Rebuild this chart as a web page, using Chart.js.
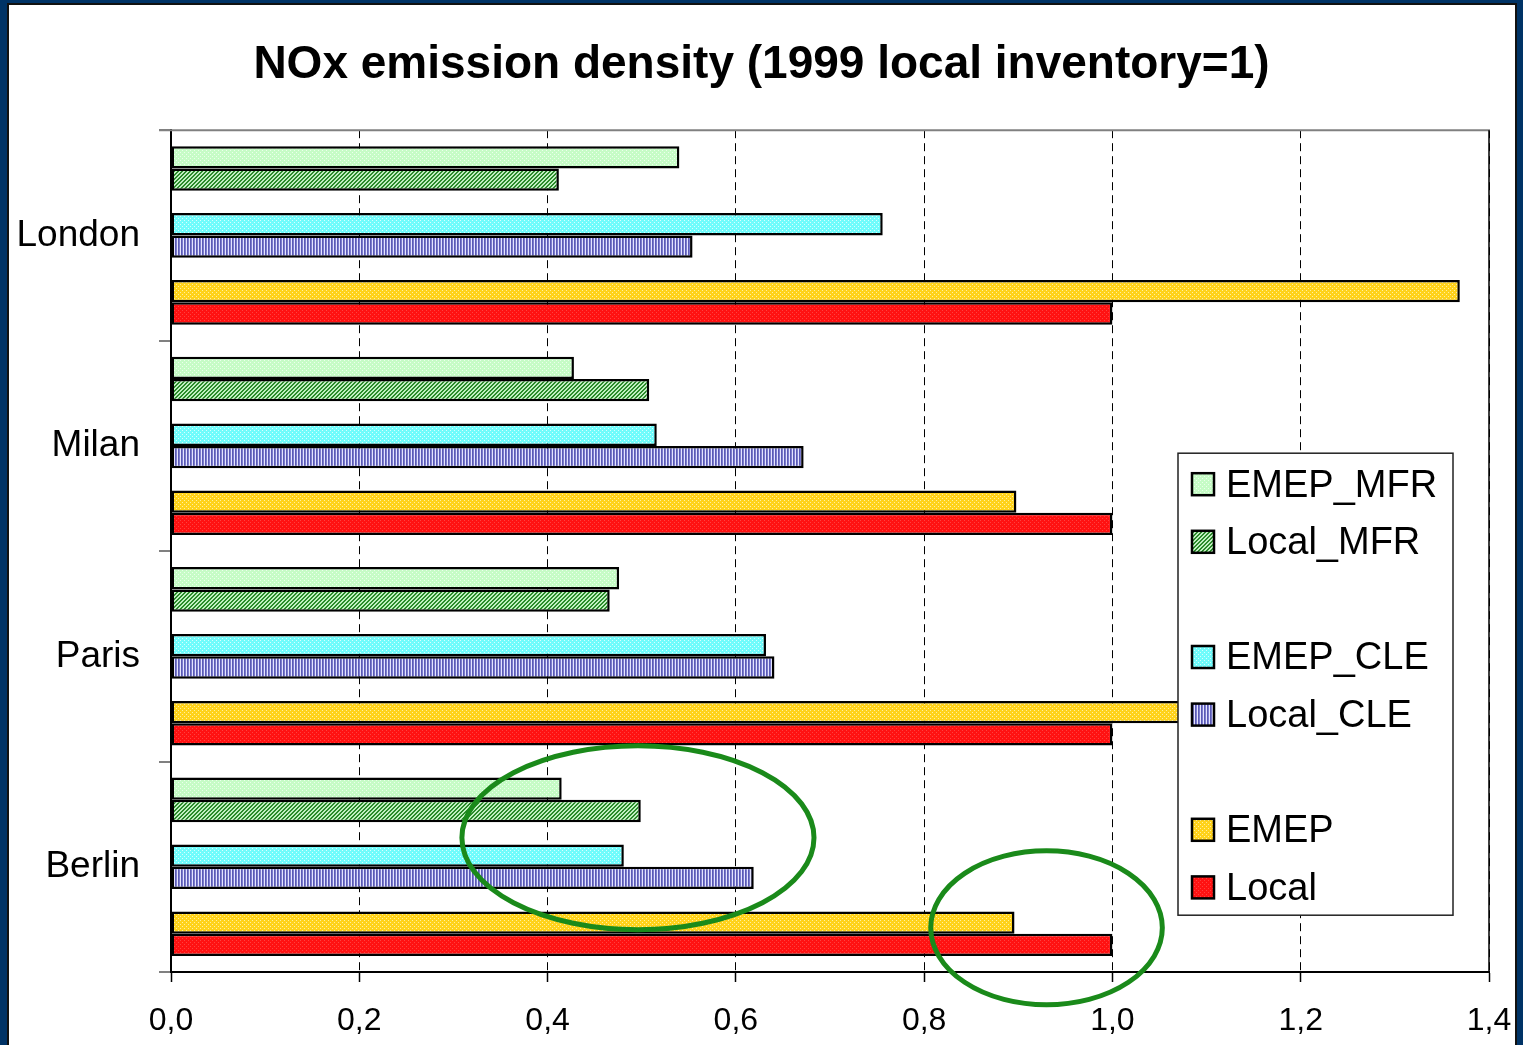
<!DOCTYPE html>
<html><head><meta charset="utf-8">
<script src="https://cdn.jsdelivr.net/npm/chart.js@4.4.0/dist/chart.umd.min.js"></script>
<style>
html,body{margin:0;padding:0;width:1523px;height:1045px;overflow:hidden;background:#003366;}
#panel{position:absolute;left:7px;top:3px;width:1506px;height:1100px;background:#fff;border:2px solid #111;}
#wrap{position:absolute;left:0;top:0;width:1523px;height:1045px;}
canvas{display:block;}
</style></head><body>
<div id="panel"></div>
<div id="wrap"><canvas id="c" width="1523" height="1045"></canvas></div>
<script>
const categories = ['London', 'Milan', 'Paris', 'Berlin'];
const emepMfr  = [0.54, 0.428, 0.476, 0.415];
const localMfr = [0.412, 0.508, 0.466, 0.499];
const emepCle  = [0.756, 0.516, 0.632, 0.481];
const localCle = [0.554, 0.672, 0.641, 0.619];
const emep     = [1.369, 0.898, 1.20, 0.896];
const local    = [1.0, 1.0, 1.0, 1.0];
const blank    = [null, null, null, null];
const seriesNames = ['EMEP_MFR', 'Local_MFR', '', 'EMEP_CLE', 'Local_CLE', '', 'EMEP', 'Local'];
const xTickLabels = ['0,0', '0,2', '0,4', '0,6', '0,8', '1,0', '1,2', '1,4'];
const titleText = 'NOx emission density (1999 local inventory=1)';

const FONT = "Arial, 'Liberation Sans', sans-serif";
const canvas = document.getElementById('c');
const ctx = canvas.getContext('2d');

function tile(w, h, fn) {
  const c = document.createElement('canvas');
  c.width = w; c.height = h;
  const g = c.getContext('2d');
  for (let y = 0; y < h; y++) for (let x = 0; x < w; x++) {
    g.fillStyle = fn(x, y); g.fillRect(x, y, 1, 1);
  }
  return ctx.createPattern(c, 'repeat');
}
const dot4 = (x, y) => (x % 2 === 0 && y % 2 === 0 && ((x + y) % 4 === 0));
const patEmepMfr  = tile(4, 4, (x, y) => (dot4(x, y) ? '#ecffec' : '#c6fcc6'));
const patLocalMfr = tile(4, 4, (x, y) => (((x + y) % 4) < 2 ? '#2a8a2a' : '#c0f0c0'));
const patEmepCle  = tile(4, 4, (x, y) => (dot4(x, y) ? '#d8ffff' : '#70fcfc'));
const patLocalCle = tile(3, 1, (x) => (x === 0 ? '#e4e4ff' : (x === 1 ? '#5a5ab4' : '#7c7cce')));
const patEmep     = tile(4, 4, (x, y) => (dot4(x, y) ? '#fff0a0' : '#ffd21a'));
const patLocal    = tile(4, 4, (x, y) => (dot4(x, y) ? '#ff4040' : '#ff1212'));

const seriesData = [emepMfr, localMfr, blank, emepCle, localCle, blank, emep, local];
const seriesFill = [patEmepMfr, patLocalMfr, 'rgba(0,0,0,0)', patEmepCle, patLocalCle, 'rgba(0,0,0,0)', patEmep, patLocal];

const datasets = seriesData.map((d, i) => ({
  label: seriesNames[i],
  data: d,
  backgroundColor: seriesFill[i],
  borderColor: '#000',
  borderWidth: 2.5,
  borderSkipped: false,
  barPercentage: 1.0,
  categoryPercentage: 0.848,
  yAxisID: 'y'
}));

const ellipses = [
  { x: 0.496, y: 2.862, rx: 0.187, ry: 0.437 },
  { x: 0.930, y: 3.290, rx: 0.123, ry: 0.366 }
];

const overlay = {
  id: 'overlay',
  afterDatasetsDraw(chart) {
    const c = chart.ctx, a = chart.chartArea;
    const xs = chart.scales.x, ys = chart.scales.y;
    c.save();
    c.lineWidth = 2;
    c.strokeStyle = '#808080';
    c.beginPath(); c.moveTo(a.left - 12, a.top); c.lineTo(a.right + 1, a.top); c.stroke();
    c.strokeStyle = '#000';
    c.lineWidth = 1.5;
    c.beginPath(); c.moveTo(a.right, a.top); c.lineTo(a.right, a.bottom); c.stroke();

    // legend
    const lx = a.right - 311, ly = a.top + 323, lw = 275, lh = 462;
    c.fillStyle = '#fff';
    c.fillRect(lx, ly, lw, lh);
    c.strokeStyle = '#222';
    c.lineWidth = 1.5;
    c.strokeRect(lx, ly, lw, lh);
    c.font = '38px ' + FONT;
    c.textBaseline = 'middle';
    c.textAlign = 'left';
    seriesNames.forEach((name, i) => {
      if (!name) return;
      const cy = ly + 31 + i * 57.6;
      c.fillStyle = seriesFill[i];
      c.fillRect(lx + 14, cy - 11, 22, 22);
      c.strokeStyle = '#000';
      c.lineWidth = 2.5;
      c.strokeRect(lx + 14, cy - 11, 22, 22);
      c.fillStyle = '#000';
      c.fillText(name, lx + 48, cy + 2);
    });

    // annotation ellipses
    c.strokeStyle = '#1a8a1a';
    c.lineWidth = 5;
    ellipses.forEach(e => {
      const cx = xs.getPixelForValue(e.x);
      const cy = ys.getPixelForValue(e.y);
      const rx = xs.getPixelForValue(e.x + e.rx) - cx;
      const ry = ys.getPixelForValue(e.y + e.ry) - cy;
      c.beginPath();
      c.ellipse(cx, cy, rx, ry, 0, 0, Math.PI * 2);
      c.stroke();
    });
    c.restore();
  }
};

new Chart(canvas, {
  type: 'bar',
  data: { labels: categories, datasets },
  options: {
    indexAxis: 'y',
    responsive: false,
    animation: false,
    events: [],
    layout: { padding: { left: 0, right: 0, top: 0, bottom: 0 } },
    plugins: {
      legend: { display: false },
      tooltip: { enabled: false },
      title: {
        display: true,
        text: titleText,
        color: '#000',
        font: { family: FONT, size: 46, weight: 'bold', lineHeight: 1.2 },
        padding: { top: 38, bottom: 37 }
      }
    },
    scales: {
      y: {
        type: 'category',
        offset: true,
        ticks: { color: '#000', font: { family: FONT, size: 37 }, padding: 19 },
        grid: {
          offset: true, drawOnChartArea: false,
          color: '#808080', lineWidth: 2, tickLength: 12, tickColor: '#808080', tickWidth: 2
        },
        border: { display: true, color: '#000', width: 2 },
        afterFit(s) { s.width = 171; }
      },
      x: {
        type: 'linear',
        min: 0, max: 1.4,
        ticks: {
          stepSize: 0.2,
          color: '#000',
          font: { family: FONT, size: 32 },
          padding: 20,
          maxRotation: 0,
          callback: (v, i) => xTickLabels[i]
        },
        grid: {
          color: '#000', lineWidth: 1,
          tickLength: 10, tickColor: '#000', tickWidth: 1.5, tickBorderDash: []
        },
        border: { display: true, color: '#000', width: 2, dash: [8, 5] },
        afterFit(s) { s.height = 73; s.paddingLeft = 0; s.paddingRight = 0; }
      },
      ySpacer: {
        type: 'category',
        position: 'right',
        offset: true,
        display: true,
        ticks: { display: false },
        grid: { display: false },
        border: { display: false },
        afterFit(s) { s.width = 34; }
      }
    }
  },
  plugins: [overlay]
});
</script>
</body></html>
